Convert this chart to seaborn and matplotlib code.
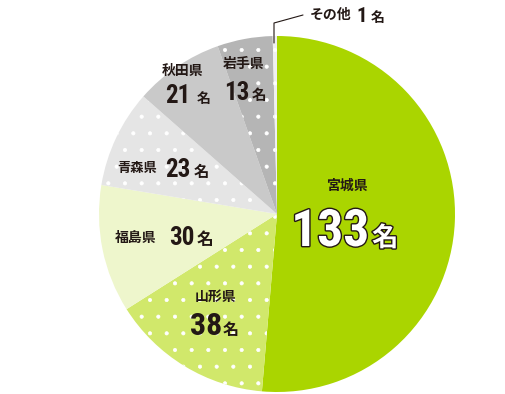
import matplotlib
matplotlib.use("Agg")
import matplotlib.pyplot as plt
import matplotlib.patheffects as pe
from matplotlib import font_manager as fm
import seaborn as sns

sns.set_theme(style="white")
plt.rcParams['font.family'] = ['Noto Sans CJK JP', 'DejaVu Sans']
plt.rcParams['hatch.linewidth'] = 0.5

prefectures = ["宮城県", "山形県", "福島県", "青森県", "秋田県", "岩手県", "その他"]
counts = [133, 38, 30, 23, 21, 13, 1]
colors = ["#aad500", "#d1e86b", "#eef6cc", "#e5e5e5", "#c9c9c9", "#b5b5b5", "#f0f0f0"]
dotted = [False, True, False, True, False, True, True]

# choose a narrow font for the numbers if one is installed
names = {f.name for f in fm.fontManager.ttflist}
NUMFONT = 'DejaVu Sans'
for cand in ['Liberation Sans Narrow', 'Roboto Condensed', 'Noto Sans Condensed',
             'DejaVu Sans Condensed', 'Open Sans Condensed']:
    if cand in names:
        NUMFONT = cand
        break
if NUMFONT == 'DejaVu Sans':
    for f in fm.fontManager.ttflist:
        if 'ondensed' in str(f.stretch) or 'arrow' in f.name:
            NUMFONT = f.name
            break

W, H = 505, 394
fig = plt.figure(figsize=(W / 100, H / 100), dpi=100)
cx, cy, R = 277, 214, 178
ax = fig.add_axes([(cx - R) / W, (H - cy - R) / H, 2 * R / W, 2 * R / H])

pal = sns.color_palette(colors)
wedges, _ = ax.pie(counts, colors=pal, startangle=90, counterclock=False,
                   radius=1, wedgeprops=dict(linewidth=0))
for w, d in zip(wedges, dotted):
    if d:
        w.set_hatch('.')
        w.set_edgecolor('white')
        w.set_linewidth(0)
ax.set_xlim(-1, 1)
ax.set_ylim(-1, 1)
ax.set_aspect('equal')
ax.axis('off')

TXT = "#231815"

def P(px, py):
    return ((px - cx) / R, (cy - py) / R)

def num_label(name, val, name_xy, num_right, unit_left, base, name_fs, num_fs, unit_fs,
              outline=False):
    ax.text(*P(*name_xy), name, fontsize=name_fs, fontweight='bold', color=TXT,
            ha='center', va='center')
    fc = 'white' if outline else TXT
    t = ax.text(*P(num_right, base), str(val), fontsize=num_fs, color=fc, ha='right',
                va='baseline', fontweight='bold', family=[NUMFONT])
    u = ax.text(*P(unit_left, base), "名", fontsize=unit_fs, color=fc, ha='left',
                va='baseline', fontweight='bold')
    if outline:
        for o in (t, u):
            o.set_path_effects([pe.Stroke(linewidth=2, foreground=TXT), pe.Normal()])

num_label(prefectures[0], counts[0], (347, 186), 369, 372, 246, 10, 37, 19, outline=True)
num_label(prefectures[1], counts[1], (216, 297), 222, 223, 335, 10, 23, 11.5)
num_label(prefectures[2], counts[2], (136, 238), 194, 197, 245, 10, 18, 12)
num_label(prefectures[3], counts[3], (137, 168), 190, 194, 177, 9.5, 18, 11)
num_label(prefectures[4], counts[4], (183, 71), 190, 197, 103, 10, 18, 10)
num_label(prefectures[5], counts[5], (244, 64), 250, 252, 100, 10, 18, 10.5)

# その他 leader line
ax.plot([(274 - cx) / R, (274 - cx) / R, (303 - cx) / R],
        [(cy - 43) / R, (cy - 23) / R, (cy - 15) / R], color=TXT, lw=0.8, clip_on=False)
ax.text(*P(310, 15), prefectures[6], fontsize=10, fontweight='bold', color=TXT,
        ha='left', va='center')
ax.text(*P(367, 22), str(counts[6]), fontsize=15, fontweight='bold', color=TXT,
        ha='right', va='baseline', family=[NUMFONT])
ax.text(*P(371, 22), "名", fontsize=10, fontweight='bold', color=TXT,
        ha='left', va='baseline')

fig.savefig("out.png", dpi=100)
